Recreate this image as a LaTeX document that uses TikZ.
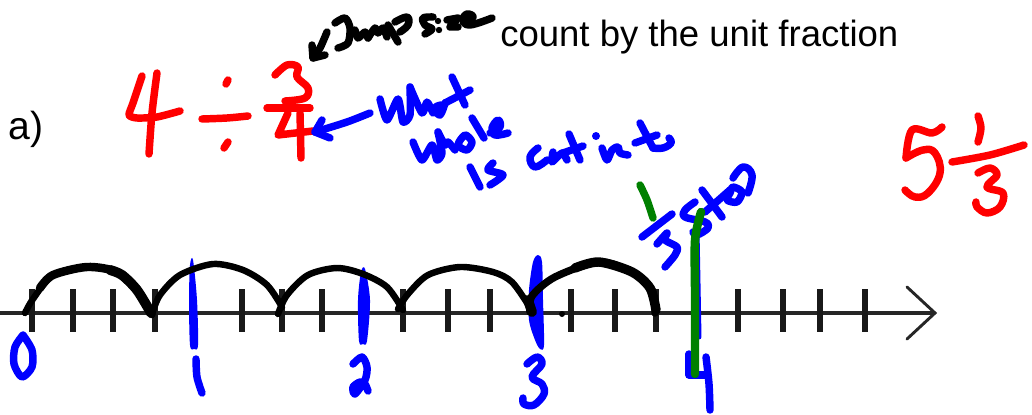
\documentclass[tikz,border=0pt]{standalone}
\usepackage{fontspec}
\setmainfont{Liberation Sans}
\usepackage{xcolor}
\definecolor{penred}{RGB}{255,0,0}
\definecolor{penblue}{RGB}{0,0,255}
\definecolor{pengreen}{RGB}{0,128,0}
\tikzset{
  ink/.style={line cap=round,line join=round,line width=#1*0.75pt},
  redink/.style={ink=7.5,penred},
  blueink/.style={ink=7.5,penblue},
  blackink/.style={ink=7.5,black},
  greenink/.style={ink=7.5,pengreen},
  printed/.style={font=\fontsize{27.55pt}{30pt}\selectfont,inner sep=0pt},
}
\begin{document}
\begin{tikzpicture}[x=0.0265cm,y=-0.0265cm]
  \useasboundingbox (0,0) rectangle (1032,414);
  \node[printed,anchor=base west] (title) at (500,46) {count by the unit fraction};
  \node[printed,anchor=base west,font=\fontsize{29.5pt}{30pt}\selectfont] (parta) at (8,139) {a)};

  \coordinate (axisstart) at (0,313);
  \coordinate (axisend) at (935,313);
  \draw[line width=2.6pt,black!85] (axisstart) -- (axisend);
  \draw[line width=2.2pt,black!85,line cap=round,line join=miter] (907,287) -- (axisend) -- (907,339);
  \foreach \x in {32,73,113,155,242,282,322,403,448,490,571,615,656,697,738,783,820,865} {
    \draw[line width=4.2pt,black!90] (\x,289) -- (\x,332);
  }

  \fill[penblue] plot[smooth cycle] coordinates {(193,260) (197,300) (198,345) (194,349) (190,345) (189,300) (190,265)};
  \fill[penblue] plot[smooth cycle] coordinates {(365,269) (370,300) (367,341) (363,344) (359,341) (358,300) (361,272)};
  \fill[penblue] plot[smooth cycle] coordinates {(538,255) (542,262) (543,300) (544,345) (540,349) (535,340) (529,320) (529,290) (533,262)};
  \draw[ink=5,penblue] (697,230) -- (699,337);

  \draw[ink=6.5] plot[smooth] coordinates {(25,313) (33,299) (53,275) (87,267) (117,272) (137,290) (152,315)};
  \draw[ink=8.5] plot[smooth] coordinates {(40,288) (53,275) (87,267) (117,272) (137,290)};
  \draw[ink=10] plot[smooth] coordinates {(110,270) (122,275) (137,290) (151,313)};
  \draw[ink=6.5] plot[smooth] coordinates {(152,314) (160,295) (180,275) (213,264) (243,270) (267,285) (282,307)};
  \draw[ink=6.5] plot[smooth] coordinates {(278,314) (287,295) (308,275) (337,268) (363,274) (387,287) (403,310)};
  \draw[ink=6.5] plot[smooth] coordinates {(398,309) (408,294) (428,275) (460,267) (493,272) (512,282) (529,306)};
  \draw[ink=7.5] plot[smooth] coordinates {(530,312) (532,296) (555,277) (599,262) (632,272) (652,290) (655,313)};
  \draw[ink=9.5] plot[smooth] coordinates {(575,268) (599,262) (632,272) (650,288) (656,310)};
  \draw[ink=10] (528,300) -- (532,312);
  \fill (562,314) circle (3);

  \draw[blueink] plot[smooth] coordinates {(23,335) (15,347) (14,364) (22,377) (32,367) (32,350) (23,335)};
  \draw[blueink] plot[smooth] coordinates {(196,359) (197,377) (202,393)};
  \draw[blueink] plot[smooth] coordinates {(353,364) (362,357) (367,367) (365,380) (355,394) (353,387) (360,382) (365,384) (368,391)};
  \draw[blueink] plot[smooth,tension=.6] coordinates {(527,364) (537,357) (542,364) (532,377) (542,384) (544,394) (534,405) (524,404) (523,398)};
  \draw[blueink] (689,354) -- (689,375) -- (705,375);
  \draw[blueink] plot[smooth] coordinates {(706,357) (709,384) (710,410)};

  \draw[redink] plot[smooth,tension=.4] coordinates {(142,76) (133,103) (129,115) (137,118) (157,117) (180,111)};
  \draw[redink] plot[smooth] coordinates {(157,73) (152,113) (149,154)};
  \draw[redink] plot[smooth] coordinates {(202,119) (227,118) (248,116)};
  \draw[redink] (228,80) -- (226,84);
  \draw[redink] (228,142) -- (224,148);
  \draw[redink] plot[smooth,tension=.6] coordinates {(275,75) (287,65) (298,67) (297,77) (308,88) (305,98) (285,101)};
  \draw[redink] (267,108) -- (310,108);
  \draw[redink] (288,113) -- (278,135) -- (313,131);
  \draw[redink] (300,113) -- (301,158);

  \draw[redink] plot[smooth,tension=.6] coordinates {(942,127) (932,133) (912,130) (906,158)};
  \draw[redink] plot[smooth,tension=.7] coordinates {(906,158) (923,150) (935,153) (940,173) (928,193) (915,197) (905,190)};
  \draw[redink] plot[smooth] coordinates {(978,116) (981,128) (978,142)};
  \draw[redink] plot[smooth] coordinates {(952,162) (990,155) (1024,145)};
  \draw[redink] plot[smooth,tension=.6] coordinates {(978,173) (990,168) (997,175) (987,187) (1003,193) (1000,207) (987,213) (977,207) (976,202)};

  \draw[blueink] plot[smooth] coordinates {(370,113) (347,122) (315,132)};
  \draw[blueink] (322,120) -- (315,132) -- (330,138);
  \draw[blueink] plot[smooth,tension=.4] coordinates {(380,99) (387,120) (398,99) (403,122) (410,115) (410,87)};
  \draw[blueink] plot[smooth,tension=.4] coordinates {(410,87) (422,113) (427,102) (433,113)};
  \draw[blueink] plot[smooth,tension=.7] coordinates {(441,105) (435,108) (440,115) (445,103)};
  \draw[blueink] (452,77) -- (465,105);
  \draw[blueink] (445,103) -- (470,90);
  \draw[blueink] plot[smooth,tension=.4] coordinates {(413,142) (422,160) (432,145) (437,160) (442,153) (438,132)};
  \draw[blueink] plot[smooth,tension=.4] coordinates {(438,132) (445,145) (448,142) (455,150)};
  \draw[blueink] plot[smooth cycle] coordinates {(465,135) (458,145) (467,150) (472,142)};
  \draw[blueink] (472,118) -- (484,138);
  \draw[blueink] plot[smooth,tension=.7] coordinates {(490,133) (500,127) (498,120) (492,128) (495,135) (508,133)};
  \draw[blueink] (470,167) -- (480,187);
  \draw[blueink] plot[smooth,tension=.5] coordinates {(493,163) (488,170) (503,175) (490,185)};

  \draw[blueink] plot[smooth,tension=.7] coordinates {(538,148) (530,157) (535,167) (547,160)};
  \draw[blueink] plot[smooth,tension=.4] coordinates {(553,152) (552,162) (562,153) (567,160)};
  \draw[blueink] (569,134) -- (580,160);
  \draw[blueink] (563,153) -- (583,146);
  \fill[penblue] (596,136) circle (4);
  \draw[blueink] plot[smooth,tension=.5] coordinates {(602,148) (607,160) (612,150) (618,147) (620,153) (628,155)};
  \draw[blueink] (640,123) -- (653,148);
  \draw[blueink] (635,143) -- (657,135);
  \draw[blueink] plot[smooth,tension=.7] coordinates {(653,148) (663,148) (671,143) (669,138)};

  \draw[blackink] plot[smooth] coordinates {(327,32) (320,48) (313,58)};
  \draw[blackink] (312,45) -- (313,58) -- (325,55);
  \draw[blackink] plot[smooth] coordinates {(335,23) (345,18) (350,28) (348,43) (338,48)};
  \draw[blackink] plot[smooth,tension=.4] coordinates {(355,30) (358,38) (365,32) (368,38)};
  \draw[blackink] plot[smooth,tension=.4] coordinates {(368,38) (375,28) (378,33) (383,28) (387,37)};
  \draw[blackink] (388,25) -- (398,42);
  \draw[blackink] plot[smooth,tension=.7] coordinates {(395,22) (407,17) (408,25) (400,32)};
  \draw[blackink] plot[smooth,tension=.6] coordinates {(433,17) (423,18) (425,25) (432,29) (425,34)};
  \fill (438,21) circle (3.2);
  \fill (439,30) circle (3.2);
  \draw[blackink] (447,20) -- (458,18) -- (450,27) -- (458,27);
  \draw[blackink] plot[smooth,tension=.7] coordinates {(463,22) (473,17) (467,14) (463,20) (470,25) (492,18)};

  \draw[blueink] (642,237) -- (672,214);
  \draw[blueink] plot[smooth,tension=.5] coordinates {(657,244) (667,233) (665,240) (677,247) (675,255) (665,267)};
  \draw[blueink] plot[smooth,tension=.6] coordinates {(695,202) (685,210) (685,217) (705,222) (708,228) (697,235) (693,232)};
  \draw[blueink] (702,190) -- (722,217);
  \draw[blueink] (705,212) -- (730,190);
  \draw[blueink] plot[smooth cycle] coordinates {(730,193) (727,200) (737,202) (742,192) (733,187)};
  \draw[blueink] plot[smooth,tension=.7] coordinates {(733,178) (743,167) (752,175) (748,193)};

  \draw[greenink] plot[smooth] coordinates {(640,185) (647,200) (653,218)};
  \draw[ink=8.5,pengreen] plot[smooth] coordinates {(701,212) (695,240) (695,294) (695,374)};
\end{tikzpicture}
\end{document}
